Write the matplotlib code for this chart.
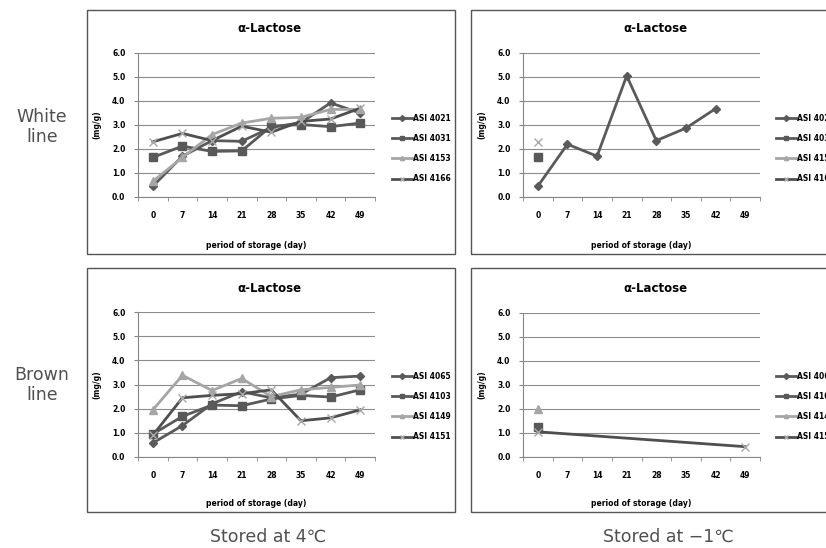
import numpy as np
import matplotlib
matplotlib.use("Agg")
import matplotlib.pyplot as plt
from matplotlib.patches import Rectangle
from matplotlib.lines import Line2D

W, H = 826, 548
days = [0, 7, 14, 21, 28, 35, 42, 49]
day_labels = ["0", "7", "14", "21", "28", "35", "42", "49"]
yticks = [0, 1, 2, 3, 4, 5, 6]

# White line, stored at 4C
white_names = ["ASI 4021", "ASI 4031", "ASI 4153", "ASI 4166"]
white_4_4021 = [0.45, 1.70, 2.35, 2.32, 2.90, 3.10, 3.92, 3.50]
white_4_4031 = [1.65, 2.12, 1.90, 1.92, 2.95, 3.02, 2.93, 3.08]
white_4_4153 = [0.65, 1.65, 2.60, 3.08, 3.28, 3.32, 3.65, 3.65]
white_4_4166 = [2.30, 2.65, 2.35, 2.95, 2.70, 3.15, 3.25, 3.70]

# White line, stored at -1C
white_m1_4021 = [0.45, 2.20, 1.70, 5.05, 2.35, 2.87, 3.68, None]
white_m1_4031 = [1.65, None, None, None, None, None, None, None]
white_m1_4153 = [None, None, None, None, None, None, None, None]
white_m1_4166 = [2.30, None, None, None, None, None, None, None]

# Brown line, stored at 4C
brown_names = ["ASI 4065", "ASI 4103", "ASI 4149", "ASI 4151"]
brown_4_4065 = [0.58, 1.30, 2.20, 2.70, 2.45, 2.60, 3.28, 3.35]
brown_4_4103 = [0.95, 1.68, 2.15, 2.12, 2.40, 2.55, 2.48, 2.78]
brown_4_4149 = [1.95, 3.38, 2.75, 3.25, 2.50, 2.78, 2.88, 2.98]
brown_4_4151 = [0.90, 2.45, 2.55, 2.62, 2.78, 1.50, 1.62, 1.95]

# Brown line, stored at -1C
brown_m1_4065 = [None, None, None, None, None, None, None, None]
brown_m1_4103 = [1.25, None, None, None, None, None, None, None]
brown_m1_4149 = [2.00, None, None, None, None, None, None, None]
brown_m1_4151 = [1.05, None, None, None, None, None, None, 0.43]

styles = [
    dict(color="#5a5a5a", marker="D", ms=4.5, mfc="#5a5a5a", mec="#5a5a5a"),
    dict(color="#595959", marker="s", ms=6, mfc="#595959", mec="#595959"),
    dict(color="#a6a6a6", marker="^", ms=6, mfc="#a6a6a6", mec="#a6a6a6"),
    dict(color="#4f4f4f", marker="x", ms=6, mfc="none", mec="#a8a8a8", mew=1.0),
]

fig = plt.figure(figsize=(W / 100, H / 100), dpi=100)
fig.patch.set_facecolor("white")

def fx(px):
    return px / W

def fy(py):
    return 1 - py / H

def box(x0, y0, x1, y1):
    r = Rectangle((fx(x0), fy(y1)), fx(x1) - fx(x0), fy(y0) - fy(y1),
                  transform=fig.transFigure, fill=False, edgecolor="#555555",
                  lw=1.0, zorder=0)
    fig.patches.append(r)

def panel(x0, x1, ytop, ybot, series, names, title, title_x, title_y, xlab_y, leg_x, leg_y):
    ax = fig.add_axes([fx(x0), fy(ybot), fx(x1) - fx(x0), fy(ytop) - fy(ybot)])
    ax.set_xlim(-0.5, 7.5)
    ax.set_ylim(0, 6)
    for s in ax.spines.values():
        s.set_visible(False)
    for side in ("left", "bottom"):
        ax.spines[side].set_visible(True)
        ax.spines[side].set_color("#868686")
        ax.spines[side].set_linewidth(0.8)
    ax.set_yticks(yticks)
    ax.set_yticklabels(["%.1f" % v for v in yticks], fontsize=5.5, fontweight="bold")
    ax.set_xticks(range(len(days)))
    ax.set_xticklabels(day_labels, fontsize=5.5, fontweight="bold")
    ax.tick_params(axis="x", which="major", length=0, pad=10)
    ax.set_xticks(np.arange(-0.5, 8.0, 1.0), minor=True)
    ax.tick_params(axis="x", which="minor", length=3, color="#868686", direction="out")
    ax.tick_params(axis="y", length=3, color="#868686", pad=6)
    ax.yaxis.grid(True, color="#8c8c8c", lw=0.8)
    ax.set_axisbelow(True)
    ax.set_ylabel("(mg/g)", fontsize=5.5, fontweight="bold", labelpad=8)
    handles = []
    for vals, nm, st in zip(series, names, styles):
        xs = [i for i, v in enumerate(vals) if v is not None]
        ys = [v for v in vals if v is not None]
        kw = dict(st)
        c = kw.pop("color")
        if xs:
            ax.plot(xs, ys, color=c, lw=2.0, clip_on=False, **kw)
        handles.append(Line2D([0], [0], color=c, lw=2.0, marker=kw["marker"],
                              ms=3, mfc=kw["mfc"], mec=kw["mec"], label=nm))
    fig.text(fx(title_x), fy(title_y), title, ha="center", va="center",
             fontsize=8.5, fontweight="bold")
    fig.text(fx((x0 + x1) / 2), fy(xlab_y), "period of storage (day)", ha="center",
             va="center", fontsize=5.5, fontweight="bold")
    fig.legend(handles=handles, loc="upper left", bbox_to_anchor=(fx(leg_x), fy(leg_y)),
               bbox_transform=fig.transFigure, frameon=False,
               prop=dict(size=5.5, weight="bold"), handlelength=2.6,
               handletextpad=0.2, labelspacing=1.45, borderpad=0, borderaxespad=0)
    return ax

# Boxes
box(87, 10, 455, 254)
box(471, 10, 840, 254)
box(87, 268, 455, 512)
box(471, 268, 840, 512)

panel(138, 375, 53, 197,
      [white_4_4021, white_4_4031, white_4_4153, white_4_4166], white_names,
      "α-Lactose", 269, 28, 245, 392, 114)
panel(523, 760, 53, 197,
      [white_m1_4021, white_m1_4031, white_m1_4153, white_m1_4166], white_names,
      "α-Lactose", 655, 28, 245, 776, 114)
panel(138, 375, 312, 457,
      [brown_4_4065, brown_4_4103, brown_4_4149, brown_4_4151], brown_names,
      "α-Lactose", 269, 288, 504, 392, 372)
panel(523, 760, 313, 457,
      [brown_m1_4065, brown_m1_4103, brown_m1_4149, brown_m1_4151], brown_names,
      "α-Lactose", 655, 288, 504, 776, 372)

side = dict(fontsize=12.5, color="#505050", ha="center", va="center", linespacing=1.2)
fig.text(fx(42), fy(127), "White\nline", **side)
fig.text(fx(42), fy(385), "Brown\nline", **side)
fig.text(fx(268), fy(537), "Stored at 4℃", **side)
fig.text(fx(668), fy(537), "Stored at −1℃", **side)

fig.savefig("out.png", dpi=100, facecolor="white")
